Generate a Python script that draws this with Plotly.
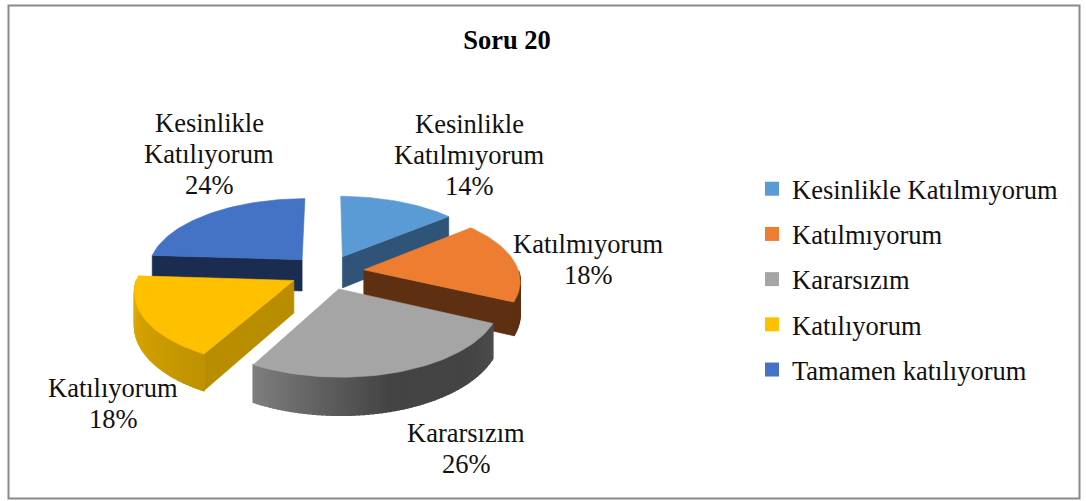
import math
import plotly.graph_objects as go

categories = ["Kesinlikle Katılmıyorum", "Katılmıyorum", "Kararsızım", "Katılıyorum", "Tamamen katılıyorum"]
data_labels = [["Kesinlikle", "Katılmıyorum"], ["Katılmıyorum"], ["Kararsızım"], ["Katılıyorum"], ["Kesinlikle", "Katılıyorum"]]
values = [14, 18, 26, 18, 24]
top_colors = ["#5B9BD5", "#ED7D31", "#A5A5A5", "#FFC000", "#4472C4"]
cut_colors = ["#2F5477", "#5F2F11", "#444444", "#B88E00", "#1A2C4F"]

CX, CY = 327, 272
R, K = 155, 72
EXPLODE = 0.24
PERSP = 0.13
DEPTH = 32
LINE_GAP = 31
label_pos = [(469, 124), (588, 244), (466, 433), (113, 388), (209, 123)]


def mix(c1, c2, t):
    a = [int(c1[i:i + 2], 16) for i in (1, 3, 5)]
    b = [int(c2[i:i + 2], 16) for i in (1, 3, 5)]
    return "#%02x%02x%02x" % tuple(round(p + (q - p) * t) for p, q in zip(a, b))


def wall_colour(i, th):
    deg = math.degrees(th)
    if i == 2:
        if deg > 165:
            return mix("#444444", "#7E7E7E", (deg - 165) / 44)
        return "#444444" if deg > 135 else mix("#4C4C4C", "#444444", (deg - 115) / 20)
    if i == 3:
        return mix("#C09200", "#DFAC00", (deg - 209) / 61)
    return cut_colors[i]


def project(X, Y, down=0.0):
    s = 1 / (1 + PERSP * Y)
    return CX + R * X * s, CY - K * Y * s + down * s


fig = go.Figure()


def poly(pts, colour, lw=0.6):
    fig.add_trace(go.Scatter(
        x=[p[0] for p in pts] + [pts[0][0]],
        y=[p[1] for p in pts] + [pts[0][1]],
        mode="lines", fill="toself", fillcolor=colour,
        line=dict(color=colour, width=lw),
        hoverinfo="skip", showlegend=False))


total = sum(values)
spans = []
acc = 0
for v in values:
    spans.append((acc / total * 2 * math.pi, (acc + v) / total * 2 * math.pi))
    acc += v

for i in [4, 0, 1, 3, 2]:
    a, b = spans[i]
    mid = (a + b) / 2
    ox, oy = EXPLODE * math.sin(mid), EXPLODE * math.cos(mid)
    n = max(12, int((b - a) * 40))
    angles = [a + (b - a) * j / n for j in range(n + 1)]
    rim = [(ox + math.sin(t), oy + math.cos(t)) for t in angles]
    apex = (ox, oy)
    # cut faces
    if math.sin(a) < -1e-6:
        poly([project(*apex), project(*rim[0]), project(*rim[0], DEPTH), project(*apex, DEPTH)], cut_colors[i])
    if math.sin(b) > 1e-6:
        poly([project(*apex), project(*rim[-1]), project(*rim[-1], DEPTH), project(*apex, DEPTH)], cut_colors[i])
    # outer wall
    for j in range(n):
        tm = (angles[j] + angles[j + 1]) / 2
        if math.cos(tm) < 0:
            poly([project(*rim[j]), project(*rim[j + 1]), project(*rim[j + 1], DEPTH), project(*rim[j], DEPTH)],
                 wall_colour(i, tm), lw=1.5)
    # top face
    poly([project(*apex)] + [project(*p) for p in rim], top_colors[i])

for name, colour in zip(categories, top_colors):
    fig.add_trace(go.Scatter(
        x=[None], y=[None], mode="markers", name=name, legendgroup=name,
        marker=dict(symbol="square", size=14, color=colour)))

for lines, v, (lx, ly) in zip(data_labels, values, label_pos):
    for k, line in enumerate(lines + [f"{v}%"]):
        fig.add_annotation(x=lx, y=ly + k * LINE_GAP, text=line, showarrow=False, xref="x", yref="y",
                           font=dict(family="Liberation Serif", size=26.5, color="#111111"), align="center")

fig.add_shape(type="rect", xref="paper", yref="paper", x0=8.5 / 1086, x1=1079.5 / 1086,
              y0=1 - 498.5 / 501, y1=1 - 5.5 / 501, line=dict(color="#8A8A8A", width=2))

fig.update_layout(
    width=1086, height=501, margin=dict(l=0, r=0, t=0, b=0, pad=0),
    paper_bgcolor="white", plot_bgcolor="white",
    title=dict(text="<b>Soru 20</b>", x=507 / 1086, xanchor="center", y=1 - 40 / 501, yanchor="middle",
               font=dict(family="Liberation Serif", size=26.5, color="#000000")),
    xaxis=dict(range=[0, 1086], visible=False, fixedrange=True),
    yaxis=dict(range=[501, 0], visible=False, fixedrange=True),
    legend=dict(x=752 / 1086, xanchor="left", y=1 - 165 / 501, yanchor="top", tracegroupgap=7.75,
                font=dict(family="Liberation Serif", size=26.5, color="#111111"), bgcolor="rgba(0,0,0,0)"),
)
fig.write_html("out.html", config=dict(displayModeBar=False),
               post_script="document.body.style.margin='0';document.body.style.overflow='hidden';")
